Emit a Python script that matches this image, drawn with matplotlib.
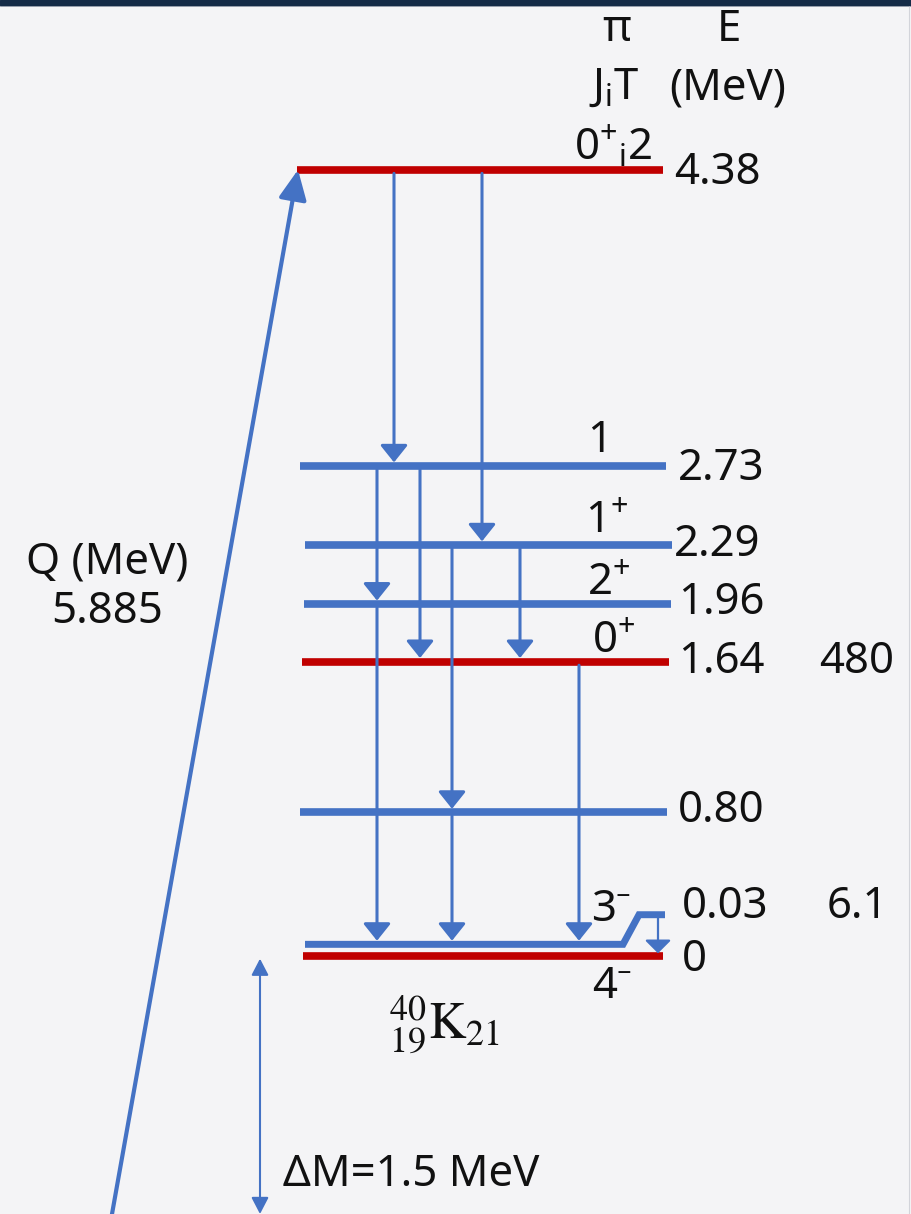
import matplotlib
matplotlib.use("Agg")
import matplotlib.pyplot as plt
from matplotlib.patches import Rectangle
from matplotlib.lines import Line2D

plt.rcParams["font.family"] = ["Noto Sans", "DejaVu Sans"]
plt.rcParams["mathtext.fontset"] = "custom"
plt.rcParams["mathtext.rm"] = "Noto Sans"
plt.rcParams["mathtext.it"] = "Noto Sans:italic"

# levels of 40K (MeV) with J^pi labels
level_e = [4.38, 2.73, 2.29, 1.96, 1.64, 0.80, 0.03, 0.0]
level_jp = [r"$\mathregular{0^{+}{}_{i}2}$", "1", r"$\mathregular{1^{+}}$",
            r"$\mathregular{2^{+}}$", r"$\mathregular{0^{+}}$", "", "3⁻", "4⁻"]
level_red = [True, False, False, False, True, False, False, True]

# extra column at the right
side_e = [1.64, 0.03]
side_text = ["480", "6.1"]

# gamma transitions: start level, end level
gamma_from = [4.38, 4.38, 2.73, 1.96, 2.73, 2.29, 0.80, 2.29, 1.64, 0.03]
gamma_to = [2.73, 2.29, 1.96, 0.03, 1.64, 0.80, 0.03, 1.64, 0.03, 0.0]

q_value = 5.885
delta_m = 1.5

# layout (horizontal pixel positions)
gamma_x = [394, 482, 377, 377, 420, 452, 452, 520, 579, 658]
level_x0 = [297, 300, 305, 304, 302, 300, 305, 303]
level_x1 = [663, 666, 672, 671, 669, 667, 665, 663]
elabel_x = [674, 678, 674, 678, 678, 678, 682, 682]

BLUE = "#4472C4"
RED = "#C00000"
BG = "#F4F4F6"
INK = "#111111"
FS = 31.5

W, H = 912, 1214
Y0, K = 956.0, 179.5          # pixel row of E=0, pixels per MeV
doublet_gap = 0.065           # 3- drawn just above the 4- ground line
stub_rise = 0.2               # short raised piece carrying the 3- label


def ypos(e):
    """Drawn height of a level."""
    if e == 0.03:
        return doublet_gap
    return e


def prow(p):
    """Pixel row to energy units."""
    return (Y0 - p) / K


fig = plt.figure(figsize=(W / 100, H / 100), dpi=100, facecolor=BG)
ax = fig.add_axes([0, 0, 1, 1])
ax.set_xlim(0, W)
ax.set_ylim(prow(H), prow(0))
ax.axis("off")
ax.set_facecolor(BG)

# frame decoration
fig.patches.append(Rectangle((0, 1 - 5 / H), 1, 5 / H, transform=fig.transFigure,
                             color="#142B47", zorder=10))
fig.lines.append(Line2D([0, 1], [1 - 6 / H, 1 - 6 / H], transform=fig.transFigure,
                        color="#A9B0BC", lw=1.2))
fig.lines.append(Line2D([1 - 3 / W, 1 - 3 / W], [0, 1 - 6 / H], transform=fig.transFigure,
                        color="#D2D4DA", lw=0.8))

# levels
for e, red, x0, x1 in zip(level_e, level_red, level_x0, level_x1):
    if e == 0.03:
        y = ypos(e)
        ys = e + stub_rise
        ax.plot([x0, 623, 639, x1], [y, y, ys, ys], color=BLUE, lw=5,
                solid_joinstyle="miter", solid_capstyle="butt", zorder=3)
    else:
        ax.plot([x0, x1], [ypos(e), ypos(e)], color=RED if red else BLUE, lw=5.5,
                solid_capstyle="butt", zorder=3)

# gamma arrows
for e0, e1, x in zip(gamma_from, gamma_to, gamma_x):
    if e0 == 0.03:
        ya, yb, hw, hl, lw = e0 + stub_rise - 0.02, ypos(e1) + 0.015, 8.0, 8.0, 1.6
    else:
        ya, yb, hw, hl, lw = ypos(e0) - 0.02, ypos(e1) + 0.02, 8.4, 10.5, 2.2
    ax.annotate("", xy=(x, yb), xytext=(x, ya),
                arrowprops=dict(arrowstyle=f"-|>,head_length={hl},head_width={hw}",
                                mutation_scale=1, lw=lw, color=BLUE,
                                shrinkA=0, shrinkB=0), zorder=4)

# Q arrow from the parent ground state
ax.annotate("", xy=(298, level_e[0]), xytext=(110, -delta_m),
            arrowprops=dict(arrowstyle="-|>,head_length=18,head_width=8.5",
                            mutation_scale=1, lw=3, color=BLUE, shrinkA=0, shrinkB=0),
            annotation_clip=False, zorder=4)

# mass difference arrow
ax.annotate("", xy=(260, -0.015), xytext=(260, ax.get_ylim()[0]),
            arrowprops=dict(arrowstyle="<|-|>,head_length=10,head_width=5.2",
                            mutation_scale=1, lw=1.5, color=BLUE, shrinkA=0, shrinkB=0),
            annotation_clip=False, zorder=4)

# energy labels
for e, xl in zip(level_e, elabel_x):
    txt = "0" if e == 0 else f"{e:.2f}"
    yl = e + stub_rise + 0.045 if e == 0.03 else ypos(e)
    dy = {4.38: -0.017, 2.73: -0.015, 1.96: 0.008, 0.80: 0.01, 0.0: -0.02}.get(e, 0.0)
    ax.text(xl, yl + dy, txt, fontsize=FS, color=INK, ha="left", va="center")

# J^pi labels
jp_pos = {4.38: (613, 22), 2.73: (600, 25), 2.29: (607, 24), 1.96: (609, 21),
          1.64: (614, 21), 0.03: (611, None), 0.0: (612, -31)}
for e, jp in zip(level_e, level_jp):
    if not jp:
        continue
    x, dpx = jp_pos[e]
    if e == 0.03:
        y = e + stub_rise + 0.025
    else:
        y = ypos(e) + dpx / K
    ax.text(x, y, jp, fontsize=FS, color=INK, ha="center", va="center")

for e, t in zip(side_e, side_text):
    yl = e + stub_rise + 0.045 if e == 0.03 else e
    ax.text(857, yl, t, fontsize=FS, color=INK, ha="center", va="center")

# column headers
ax.text(617, prow(30), "π", fontsize=FS, color=INK, ha="center", va="center")
ax.text(729, prow(30), "E", fontsize=FS, color=INK, ha="center", va="center")
ax.text(614, prow(88), r"$\mathregular{J_{i}T}$", fontsize=FS, color=INK,
        ha="center", va="center")
ax.text(728, prow(88), "(MeV)", fontsize=FS, color=INK, ha="center", va="center")

# Q value and mass difference
ax.text(107, prow(562), "Q (MeV)", fontsize=FS, color=INK, ha="center", va="center")
ax.text(107, prow(612), f"{q_value:.3f}", fontsize=FS, color=INK,
        ha="center", va="center")
ax.text(283, prow(1175), f"ΔM={delta_m:.1f} MeV", fontsize=FS, color=INK,
        ha="left", va="center")

# nucleus label
ax.text(445, prow(1025), r"${}^{40}_{19}\mathrm{K}_{21}$", fontsize=37,
        color=INK, ha="center", va="center", math_fontfamily="stix")

fig.savefig("out.png", dpi=100, facecolor=BG)
